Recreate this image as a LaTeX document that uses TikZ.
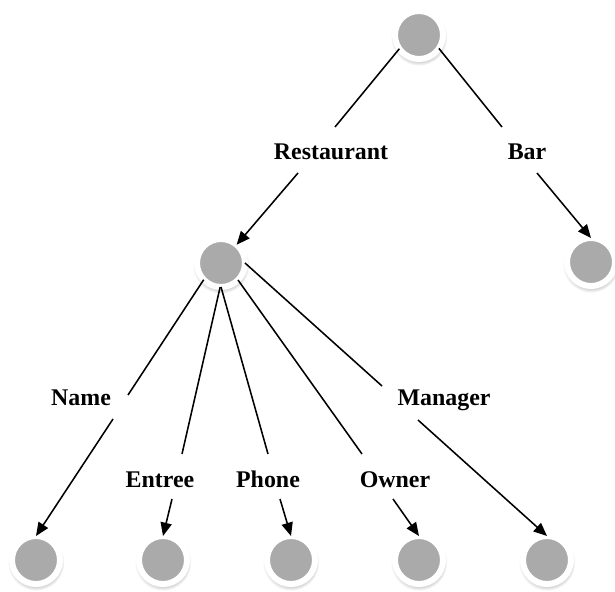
\documentclass[tikz,border=0pt]{standalone}
\usepackage{fontspec}
\setmainfont{Liberation Serif}
\usepackage{tikz}
\usetikzlibrary{arrows.meta, shadows}
\definecolor{nodefill}{RGB}{170,170,170}

\begin{document}
\begin{tikzpicture}[
  x=0.025cm, y=-0.025cm,
  vertex/.style={circle, fill=nodefill, draw=white, line width=0.15cm, minimum size=1.2cm, inner sep=0pt, outer sep=0pt,
    circular drop shadow={shadow scale=1.18, shadow xshift=0pt, shadow yshift=-0.05cm, opacity=0.35}},
  link/.style={line width=1.1pt, color=black},
  linkarrow/.style={link, -{Triangle[length=9.5pt, width=8pt]}},
  edgelabel/.style={font=\fontsize{17}{20}\selectfont\bfseries, anchor=base, inner sep=0pt},
]
  \useasboundingbox (0, 0) rectangle (615, 591);

  % vertices
  \node[vertex] (root) at (419, 35) {};
  \node[vertex] (rest) at (221, 263) {};
  \node[vertex] (bar) at (591, 262) {};
  \node[vertex] (name) at (36, 560) {};
  \node[vertex] (entree) at (163, 560) {};
  \node[vertex] (phone) at (291, 560) {};
  \node[vertex] (owner) at (419, 560) {};
  \node[vertex] (manager) at (547, 560) {};

  % edge labels
  \node[edgelabel] (restlbl) at (331, 159) {Restaurant};
  \node[edgelabel] (barlbl) at (527, 159) {Bar};
  \node[edgelabel] (namelbl) at (81, 405) {Name};
  \node[edgelabel] (managerlbl) at (444, 405) {Manager};
  \node[edgelabel] (entreelbl) at (160, 487) {Entree};
  \node[edgelabel] (phonelbl) at (268, 487) {Phone};
  \node[edgelabel] (ownerlbl) at (395, 487) {Owner};

  % where the edges break round the labels
  \coordinate (rest1) at (335, 127);
  \coordinate (rest2) at (298, 173);
  \coordinate (bar1) at (502, 127);
  \coordinate (bar2) at (537, 173);
  \coordinate (name1) at (128, 395);
  \coordinate (name2) at (113, 419);
  \coordinate (entree1) at (182, 454);
  \coordinate (entree2) at (172, 499);
  \coordinate (phone1) at (268, 454);
  \coordinate (phone2) at (280, 499);
  \coordinate (owner1) at (362, 454);
  \coordinate (owner2) at (393, 499);
  \coordinate (manager1) at (382, 386);
  \coordinate (manager2) at (418, 420);

  % top level
  \draw[link] (root.215) -- (rest1);
  \draw[linkarrow] (rest2) -- (rest);
  \draw[link] (root.-34) -- (bar1);
  \draw[linkarrow] (bar2) -- (bar.north);

  % restaurant fields
  \draw[link] (rest.224) -- (name1);
  \draw[linkarrow] (name2) -- (name.north);
  \draw[link] (rest.268) -- (entree1);
  \draw[linkarrow] (entree2) -- (entree.north);
  \draw[link] (rest.270) -- (phone1);
  \draw[linkarrow] (phone2) -- (phone.north);
  \draw[link] (rest.315) -- (owner1);
  \draw[linkarrow] (owner2) -- (owner.north);
  \draw[link] (rest.east) -- (manager1);
  \draw[linkarrow] (manager2) -- (manager.north);
\end{tikzpicture}
\end{document}
